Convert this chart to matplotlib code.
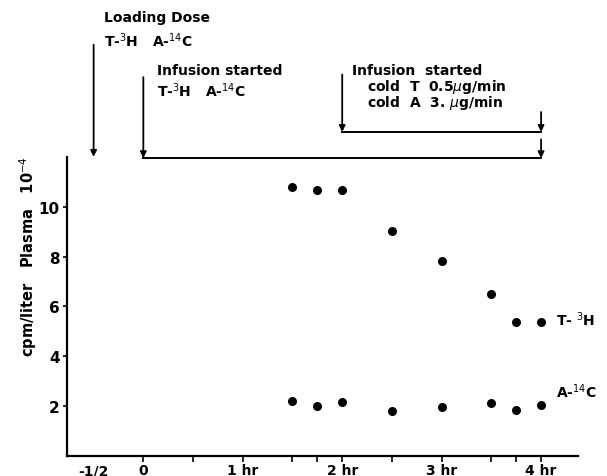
import matplotlib
matplotlib.use("Agg")
import matplotlib.pyplot as plt

# time in hours
hours = [1.5, 1.75, 2.0, 2.5, 3.0, 3.5, 3.75, 4.0]
t3h = [10.8, 10.67, 10.69, 9.02, 7.82, 6.5, 5.38, 5.37]
a14c = [2.19, 2.0, 2.16, 1.8, 1.96, 2.12, 1.85, 2.05]

tick_pos = [0, 0.5, 1, 1.5, 1.75, 2, 2.5, 3, 3.5, 3.75, 4]
label_pos = [-0.5, 0, 1, 2, 3, 4]
label_txt = ["-1/2", "0", "1 hr", "2 hr", "3 hr", "4 hr"]
y_ticks = [2, 4, 6, 8, 10]

plt.rcParams["font.family"] = "DejaVu Sans"
fig = plt.figure(figsize=(6.07, 4.77), dpi=100)
ax = fig.add_axes([0.110, 0.042, 0.842, 0.627])

ax.scatter(hours, t3h, s=30, color="black", zorder=3)
ax.scatter(hours, a14c, s=30, color="black", zorder=3)

ax.set_xlim(-0.77, 4.37)
ax.set_ylim(0, 12)
ax.spines["top"].set_visible(False)
ax.spines["right"].set_visible(False)
ax.spines["left"].set_linewidth(1.6)
ax.spines["bottom"].set_linewidth(1.6)

ax.set_xticks(tick_pos)
ax.set_xticklabels([""] * len(tick_pos))
ax.tick_params(axis="x", length=4, width=1.2, direction="out")
for p, t in zip(label_pos, label_txt):
    ax.text(p, -0.3, t, ha="center", va="top", fontsize=10, fontweight="bold")

ax.set_yticks(y_ticks)
ax.set_yticklabels([str(v) for v in y_ticks], fontsize=11, fontweight="bold")
ax.tick_params(axis="y", length=3, width=1.2, direction="out", pad=2)
ax.set_ylabel("cpm/liter   Plasma   10$^{-4}$", fontsize=10.5, fontweight="bold")
ax.yaxis.set_label_coords(-0.055, 0.67)

# series labels
ax.text(4.15, 5.5, "T- $^{3}$H", fontsize=10, fontweight="bold", va="center")
ax.text(4.15, 2.6, "A-$^{14}$C", fontsize=10, fontweight="bold", va="center")


def arrow(x, y0, y1):
    ax.annotate("", xy=(x, y1), xytext=(x, y0), annotation_clip=False,
                arrowprops=dict(arrowstyle="-|>", color="black", lw=1.3,
                                mutation_scale=9, shrinkA=0, shrinkB=0))


# loading dose
arrow(-0.5, 16.5, 12.0)
ax.text(-0.4, 17.6, "Loading Dose", fontsize=10, fontweight="bold", va="center")
ax.text(-0.4, 16.7, "T-$^{3}$H   A-$^{14}$C", fontsize=10, fontweight="bold",
        va="center")

# infusion started bracket 0 - 4 hr
arrow(0, 15.2, 11.95)
arrow(4, 12.7, 11.95)
ax.plot([0, 4], [11.95, 11.95], color="black", lw=1.4, clip_on=False)
ax.text(0.14, 15.5, "Infusion started", fontsize=10, fontweight="bold",
        va="center")
ax.text(0.14, 14.7, "T-$^{3}$H   A-$^{14}$C", fontsize=10, fontweight="bold",
        va="center")

# cold infusion bracket 2 - 4 hr
arrow(2, 15.3, 13.0)
arrow(4, 13.8, 13.0)
ax.plot([2, 4], [13.0, 13.0], color="black", lw=1.4, clip_on=False)
ax.text(2.1, 15.5, "Infusion  started", fontsize=10, fontweight="bold",
        va="center")
ax.text(2.25, 14.85, "cold  T  0.5$\\mu$g/min", fontsize=10, fontweight="bold",
        va="center")
ax.text(2.25, 14.2, "cold  A  3. $\\mu$g/min", fontsize=10, fontweight="bold",
        va="center")

fig.savefig("out.png", dpi=100)
